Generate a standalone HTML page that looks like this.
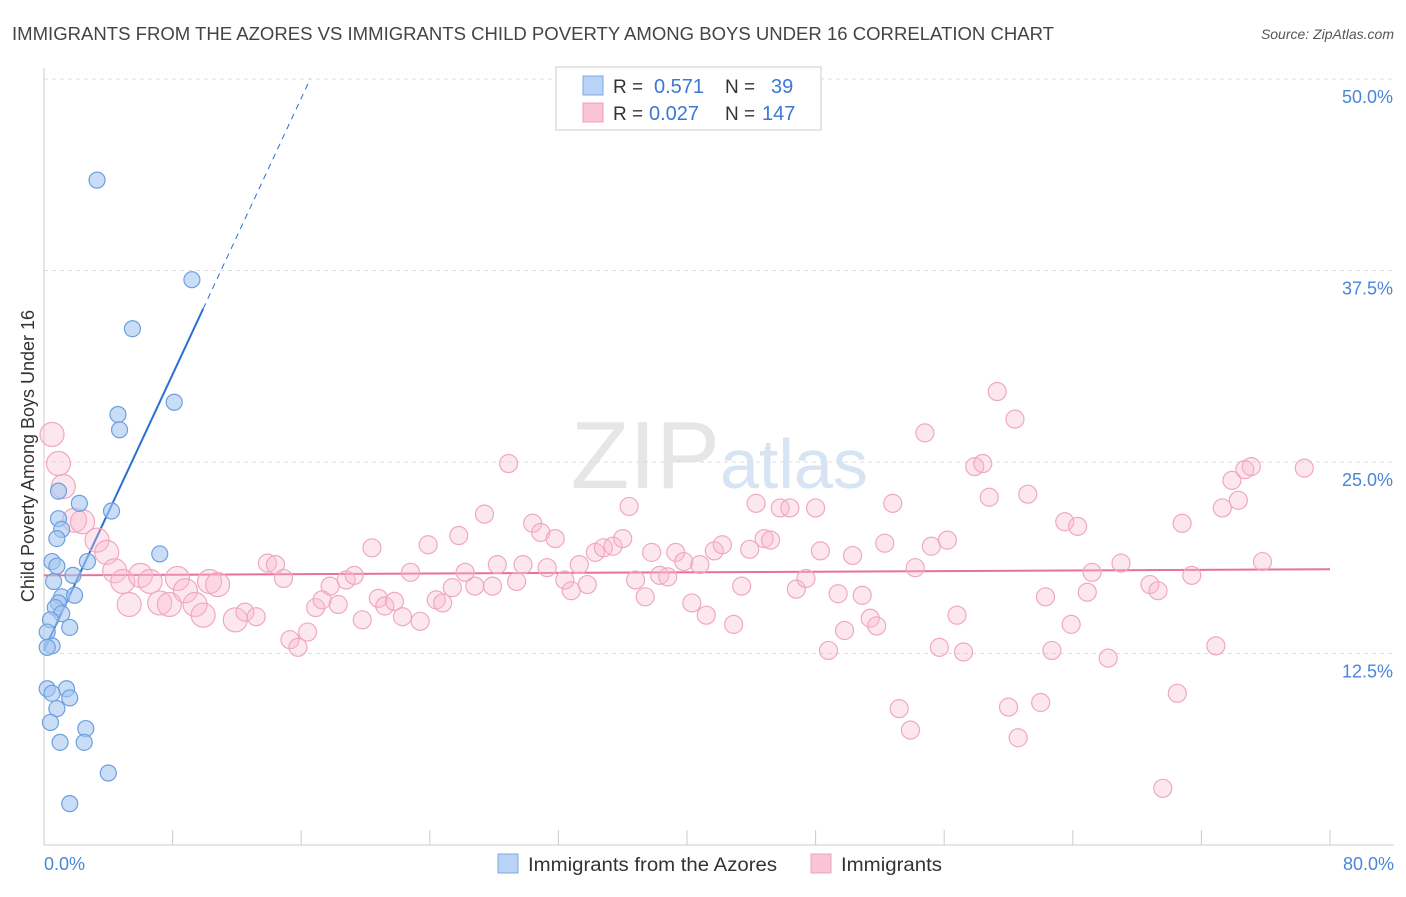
<!DOCTYPE html>
<html><head><meta charset="utf-8"><style>
body{margin:0;background:#fff;font-family:"Liberation Sans",sans-serif;}
svg text{font-family:"Liberation Sans",sans-serif;}
</style></head><body>
<svg id="chart" width="1406" height="892">
<text x="12" y="40" font-size="18" fill="#444" textLength="1042" lengthAdjust="spacingAndGlyphs">IMMIGRANTS FROM THE AZORES VS IMMIGRANTS CHILD POVERTY AMONG BOYS UNDER 16 CORRELATION CHART</text>
<text x="1394" y="39" font-size="14" fill="#555" text-anchor="end" font-style="italic">Source: ZipAtlas.com</text>
<text x="720" y="488" font-size="96" fill="#e6e6e6" text-anchor="end" font-family="Liberation Serif">ZIP</text>
<text x="720" y="488" font-size="70" fill="#d6e4f4">atlas</text>
<g id="grid"></g><g id="axes"></g><g id="lines"></g><g id="pts"></g>
<text transform="translate(34,456) rotate(-90)" font-size="18" fill="#333" text-anchor="middle">Child Poverty Among Boys Under 16</text>
<text x="44" y="870" font-size="18" fill="#4a86d8">0.0%</text>
<text x="1394" y="870" font-size="18" fill="#4a86d8" text-anchor="end">80.0%</text>
<g>
<rect x="556" y="67" width="265" height="63" fill="#fff" stroke="#ccc"/>
<rect x="583" y="76" width="20" height="19" fill="#b8d3f5" stroke="#7aaae6"/>
<rect x="583" y="103" width="20" height="19" fill="#f9c4d4" stroke="#f0a0bb"/>
<text x="613" y="93" font-size="19" fill="#333">R = </text><text x="654" y="93" font-size="20" fill="#3a78d4">0.571</text>
<text x="725" y="93" font-size="19" fill="#333">N = </text><text x="771" y="93" font-size="20" fill="#3a78d4">39</text>
<text x="613" y="120" font-size="19" fill="#333">R = </text><text x="649" y="120" font-size="20" fill="#3a78d4">0.027</text>
<text x="725" y="120" font-size="19" fill="#333">N = </text><text x="762" y="120" font-size="20" fill="#3a78d4">147</text>
</g>
<g>
<rect x="498" y="854" width="20" height="19" fill="#b8d3f5" stroke="#7aaae6"/>
<text x="528" y="871" font-size="19" fill="#333" textLength="249" lengthAdjust="spacingAndGlyphs">Immigrants from the Azores</text>
<rect x="811" y="854" width="20" height="19" fill="#f9c4d4" stroke="#f0a0bb"/>
<text x="841" y="871" font-size="19" fill="#333" textLength="101" lengthAdjust="spacingAndGlyphs">Immigrants</text>
</g>
</svg>
<script>
const yTicks=[12.5,25,37.5,50];
const yTickLabels=["12.5%","25.0%","37.5%","50.0%"];
const blueX=[3.3,9.2,5.5,8.1,4.6,4.7,0.9,2.2,4.2,0.9,1.1,0.8,7.2,0.5,2.7,0.8,1.8,0.6,1.1,1.9,0.9,0.7,1.1,0.4,1.6,0.2,0.5,0.2,0.2,1.4,0.5,1.6,0.8,0.4,2.6,1.0,2.5,4.0,1.6];
const blueY=[43.4,36.9,33.7,28.9,28.1,27.1,23.1,22.3,21.8,21.3,20.6,20.0,19.0,18.5,18.5,18.2,17.6,17.2,16.2,16.3,15.8,15.5,15.1,14.7,14.2,13.9,13.0,12.9,10.2,10.2,9.9,9.6,8.9,8.0,7.6,6.7,6.7,4.7,2.7];
const pinkX=[0.5,0.9,1.2,1.9,2.4,3.3,3.9,4.4,4.9,5.3,6.0,6.6,7.2,7.8,8.3,8.8,9.4,9.9,10.3,10.8,11.9,12.5,13.2,13.9,14.4,14.9,15.3,15.8,16.4,16.9,17.3,17.8,18.3,18.8,19.3,19.8,20.4,20.8,21.2,21.8,22.3,22.8,23.4,23.9,24.4,24.8,25.4,25.8,26.2,26.8,27.4,27.9,28.2,28.9,29.4,29.8,30.4,30.9,31.3,31.8,32.4,32.8,33.3,33.8,34.3,34.8,35.4,36.0,36.4,36.8,37.4,37.8,38.3,38.8,39.3,39.8,40.3,40.8,41.2,41.7,42.2,42.9,43.4,43.9,44.3,44.8,45.2,45.8,46.4,46.8,47.4,48.0,48.3,48.8,49.4,49.8,50.3,50.9,51.4,51.8,52.3,52.8,53.2,53.9,54.2,54.8,55.2,55.7,56.2,56.8,57.2,57.9,58.4,58.8,59.3,60.0,60.4,60.6,61.2,62.0,62.3,62.7,63.5,63.9,64.3,64.9,65.2,66.2,67.0,68.8,69.3,69.6,70.5,70.8,71.4,72.9,73.3,73.9,74.3,74.7,75.1,75.8,78.4];
const pinkY=[26.8,24.9,23.4,21.2,21.1,19.9,19.1,17.9,17.2,15.7,17.6,17.2,15.8,15.7,17.4,16.6,15.7,15.0,17.2,17.0,14.7,15.2,14.9,18.4,18.3,17.4,13.4,12.9,13.9,15.5,16.0,16.9,15.7,17.3,17.6,14.7,19.4,16.1,15.6,15.9,14.9,17.8,14.6,19.6,16.0,15.8,16.8,20.2,17.8,16.9,21.6,16.9,18.3,24.9,17.2,18.3,21.0,20.4,18.1,20.0,17.3,16.6,18.3,17.0,19.1,19.4,19.5,20.0,22.1,17.3,16.2,19.1,17.6,17.5,19.1,18.5,15.8,18.3,15.0,19.2,19.6,14.4,16.9,19.3,22.3,20.0,19.9,22.0,22.0,16.7,17.4,22.0,19.2,12.7,16.4,14.0,18.9,16.3,14.8,14.3,19.7,22.3,8.9,7.5,18.1,26.9,19.5,12.9,19.9,15.0,12.6,24.7,24.9,22.7,29.6,9.0,27.8,7.0,22.9,9.3,16.2,12.7,21.1,14.4,20.8,16.5,17.8,12.2,18.4,17.0,16.6,3.7,9.9,21.0,17.6,13.0,22.0,23.8,22.5,24.5,24.7,18.5,24.6];
const blueLine=[0,12.7,12.5,50.0];
const blueSolidEnd=[9.9,35.0];
const pinkLine=[0,17.6,80,18.0];
const NS='http://www.w3.org/2000/svg';
const sx=v=>44+v/80*1286, sy=v=>845-v*15.32;
function mk(tag,attrs,parent){const e=document.createElementNS(NS,tag);for(const k in attrs)e.setAttribute(k,attrs[k]);parent.appendChild(e);return e;}
const grid=document.getElementById('grid'),axes=document.getElementById('axes'),lines=document.getElementById('lines'),pts=document.getElementById('pts');
yTicks.forEach((t,i)=>{
 const l=mk('line',{x1:44,x2:1394,y1:sy(t),y2:sy(t),stroke:'#ddd','stroke-dasharray':'4,4'},grid);
 
 
 const tx=mk('text',{x:1393,y:sy(t)+24,'font-size':18,fill:'#4a86d8','text-anchor':'end'},grid);
 tx.textContent=yTickLabels[i];
 
 
});
const xa=mk('line',{x1:44,x2:1394,y1:845,y2:845,stroke:'#ccc'},axes);


const ya=mk('line',{x1:44,x2:44,y1:68,y2:845,stroke:'#ccc'},axes);


for(let i=0;i<=10;i++){const t=mk('line',{x1:sx(i*8),x2:sx(i*8),y1:830,y2:845,stroke:'#ccc'},axes);
 
 }
pinkX.forEach((x,i)=>{
 const r=x<12?12:9;
 const c=mk('circle',{cx:sx(x),cy:sy(pinkY[i]),r:r,fill:'rgba(248,185,205,0.35)',stroke:'#f0a8c0','stroke-width':1.2},pts);
 
 
});
blueX.forEach((x,i)=>{
 const c=mk('circle',{cx:sx(x),cy:sy(blueY[i]),r:8,fill:'rgba(165,198,240,0.6)',stroke:'#6d9fe0','stroke-width':1.2},pts);
 
 
});
const pl=mk('line',{x1:sx(pinkLine[0]),y1:sy(pinkLine[1]),x2:sx(pinkLine[2]),y2:sy(pinkLine[3]),stroke:'#e8709a','stroke-width':2},lines);


const bl=mk('line',{x1:sx(blueLine[0]),y1:sy(blueLine[1]),x2:sx(blueSolidEnd[0]),y2:sy(blueSolidEnd[1]),stroke:'#2a6fd6','stroke-width':2},lines);


const slope=(blueSolidEnd[1]-blueLine[1])/blueSolidEnd[0];
const xEnd=(blueLine[3]-blueLine[1])/slope;
const bd=mk('line',{x1:sx(blueSolidEnd[0]),y1:sy(blueSolidEnd[1]),x2:sx(xEnd),y2:sy(blueLine[3]),stroke:'#2a6fd6','stroke-width':1,'stroke-dasharray':'6,5'},lines);


</script>
</body></html>
